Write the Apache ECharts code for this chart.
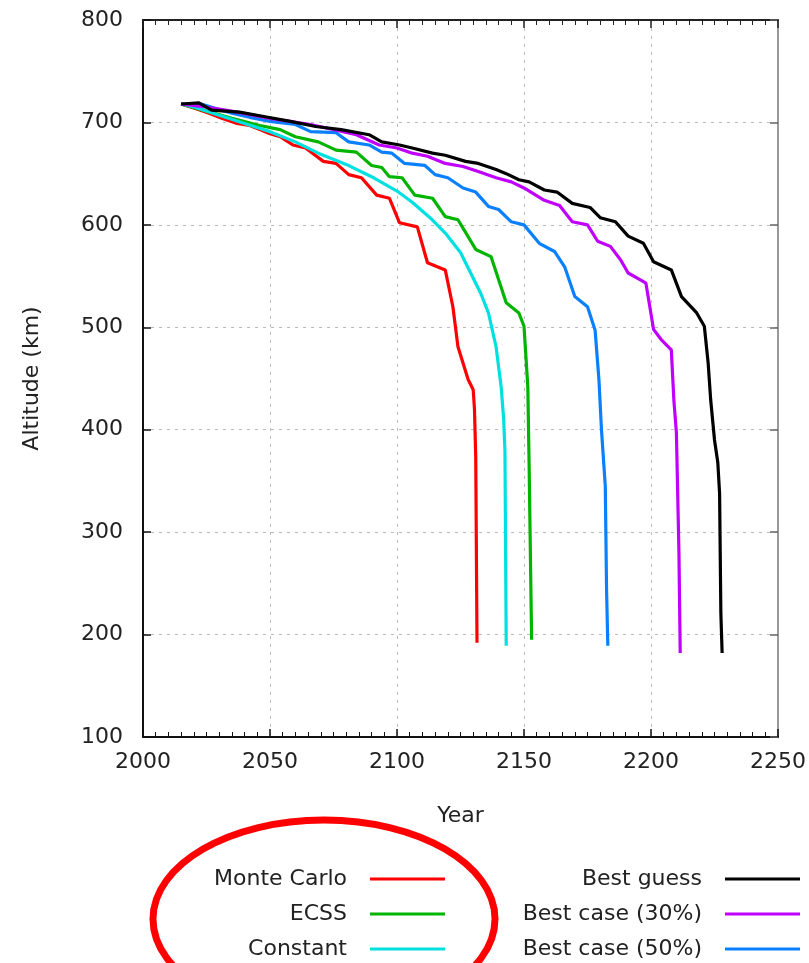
<!DOCTYPE html>
<html>
<head>
    <meta charset="utf-8">
    <script src="https://cdn.jsdelivr.net/npm/echarts@6/dist/echarts.min.js"></script>
    <style>
        html, body { margin: 0; padding: 0; background: #fff; }
        #chart { width: 809px; height: 963px; }
    </style>
</head>
<body>
    <div id="chart"></div>
    <script type="text/javascript">
        // [year, altitude km]
        var monteCarlo = [[2015,718],[2020,714],[2026,709],[2031,704],[2037,699],[2042,697],[2046,693],[2050,689],[2054,686],[2059,678],[2064,675],[2071,662],[2076,660],[2081,649],[2086,646],[2092,629],[2097,626],[2101,602],[2108,598],[2112,563],[2119,556],[2122,520],[2124,481],[2128,449],[2130,439],[2130.5,420],[2131,373],[2131.5,192]];
        var ecss = [[2015,718],[2025,711],[2035,704],[2046,697],[2054,693],[2060,686],[2069,681],[2076,673],[2084,671],[2090,658],[2094,656],[2097,647],[2102,646],[2107,629],[2114,626],[2119,608],[2124,605],[2131,576],[2137,569],[2143,524],[2148,514],[2150,501],[2151.5,442],[2152,368],[2153,195]];
        var constant = [[2015,718],[2020,715],[2030,707],[2040,699],[2050,691],[2060,681],[2069,670],[2080,659],[2090,647],[2100,633],[2106,622],[2113,607],[2119,592],[2125,573],[2129,553],[2133,533],[2136,514],[2139,481],[2141,442],[2142,410],[2142.5,379],[2143,189]];
        var bestCase50 = [[2015,718],[2023,718],[2028,714],[2035,709],[2042,705],[2050,701],[2060,698],[2066,691],[2076,690],[2081,681],[2089,678],[2094,671],[2098,670],[2103,660],[2111,658],[2115,649],[2120,646],[2126,636],[2131,632],[2136,618],[2140,615],[2145,603],[2150,600],[2156,582],[2162,574],[2166,559],[2170,530],[2175,520],[2178,497],[2179.5,449],[2180.5,400],[2182,345],[2182.5,244],[2183,189]];
        var bestCase30 = [[2015,718],[2022,716],[2030,713],[2037,710],[2050,704],[2066,698],[2084,688],[2093,678],[2100,675],[2106,670],[2112,667],[2119,660],[2126,657],[2132,652],[2139,646],[2145,642],[2150,636],[2158,624],[2164,619],[2169,603],[2175,600],[2179,584],[2184,579],[2188,566],[2191,553],[2196,546],[2198,543],[2201,498],[2204,488],[2208,478],[2209,429],[2210,397],[2211,280],[2211.5,182]];
        var bestGuess = [[2015,718],[2022,719],[2027,712],[2038,710],[2047,706],[2058,701],[2068,696],[2078,693],[2089,688],[2094,681],[2101,678],[2106,675],[2114,670],[2119,668],[2127,662],[2132,660],[2139,654],[2143,650],[2148,644],[2152,642],[2158,634],[2163,632],[2169,621],[2176,617],[2180,607],[2186,603],[2191,589],[2197,582],[2201,564],[2208,556],[2212,530],[2218,514],[2221,501],[2222.5,465],[2223.5,429],[2225,390],[2226.3,368],[2227,338],[2227.5,221],[2228,182]];

        var leftNames = ['Monte Carlo', 'ECSS', 'Constant'];
        var rightNames = ['Best guess', 'Best case (30%)', 'Best case (50%)'];

        var font = 'DejaVu Sans';
        var gridDash = { show: true, lineStyle: { color: '#bbb', width: 1, type: [3, 5] } };

        function line(name, data, color) {
            return {
                name: name,
                type: 'line',
                data: data,
                symbol: 'none',
                showSymbol: false,
                color: color,
                lineStyle: { color: color, width: 3.2 }
            };
        }

        function legend(names, right) {
            return {
                data: names,
                orient: 'vertical',
                align: 'right',
                right: right,
                top: 868,
                padding: 0,
                icon: 'rect',
                itemWidth: 75,
                itemHeight: 3,
                itemGap: 13,
                textStyle: { fontFamily: font, fontSize: 22, color: '#222', lineHeight: 22, padding: [0, 18, 0, 0] }
            };
        }

        function plain(v) { return String(v); }

        var option = {
            animation: false,
            backgroundColor: '#fff',
            grid: { left: 143, right: 29, top: 20, bottom: 226 },
            xAxis: [
                {
                    type: 'value', min: 2000, max: 2250, interval: 50,
                    name: 'Year', nameLocation: 'middle', nameGap: 68,
                    nameTextStyle: { fontFamily: font, fontSize: 22, color: '#222' },
                    axisLine: { show: true, onZero: false, lineStyle: { color: '#111', width: 2 } },
                    axisTick: { show: true, inside: true, length: 8, lineStyle: { color: '#111', width: 1.5 } },
                    minorTick: { show: true, splitNumber: 10, length: 5, lineStyle: { color: '#111', width: 1 } },
                    axisLabel: { margin: 14, fontFamily: font, fontSize: 22, color: '#222', formatter: plain },
                    splitLine: gridDash
                },
                {
                    type: 'value', min: 2000, max: 2250, interval: 50, position: 'top',
                    axisLine: { show: true, onZero: false, lineStyle: { color: '#222', width: 2 } },
                    axisTick: { show: true, inside: true, length: 8, lineStyle: { color: '#222', width: 1.5 } },
                    minorTick: { show: true, splitNumber: 10, length: 5, lineStyle: { color: '#222', width: 1 } },
                    axisLabel: { show: false },
                    splitLine: { show: false }
                }
            ],
            yAxis: [
                {
                    type: 'value', min: 100, max: 800, interval: 100,
                    name: 'Altitude (km)', nameLocation: 'middle', nameGap: 100,
                    nameTextStyle: { fontFamily: font, fontSize: 22, color: '#222' },
                    axisLine: { show: true, onZero: false, lineStyle: { color: '#111', width: 2 } },
                    axisTick: { show: true, inside: true, length: 8, lineStyle: { color: '#111', width: 1.5 } },
                    axisLabel: { margin: 20, fontFamily: font, fontSize: 22, color: '#222', formatter: plain },
                    splitLine: gridDash
                },
                {
                    type: 'value', min: 100, max: 800, interval: 100, position: 'right',
                    axisLine: { show: true, onZero: false, lineStyle: { color: '#999', width: 2 } },
                    axisTick: { show: true, inside: true, length: 8, lineStyle: { color: '#666', width: 1.5 } },
                    axisLabel: { show: false },
                    splitLine: { show: false }
                }
            ],
            legend: [legend(leftNames, 364), legend(rightNames, 9)],
            graphic: [
                {
                    type: 'ellipse',
                    shape: { cx: 324, cy: 919, rx: 171, ry: 99 },
                    style: { fill: 'none', stroke: '#ff0000', lineWidth: 7 },
                    z: 100
                }
            ],
            series: [
                line('Monte Carlo', monteCarlo, '#ff0000'),
                line('ECSS', ecss, '#00b400'),
                line('Constant', constant, '#00e0e0'),
                line('Best case (50%)', bestCase50, '#0a80ff'),
                line('Best case (30%)', bestCase30, '#c000ff'),
                line('Best guess', bestGuess, '#000000')
            ]
        };

        var myChart = echarts.init(document.getElementById('chart'));
        myChart.setOption(option);
    </script>
</body>
</html>
